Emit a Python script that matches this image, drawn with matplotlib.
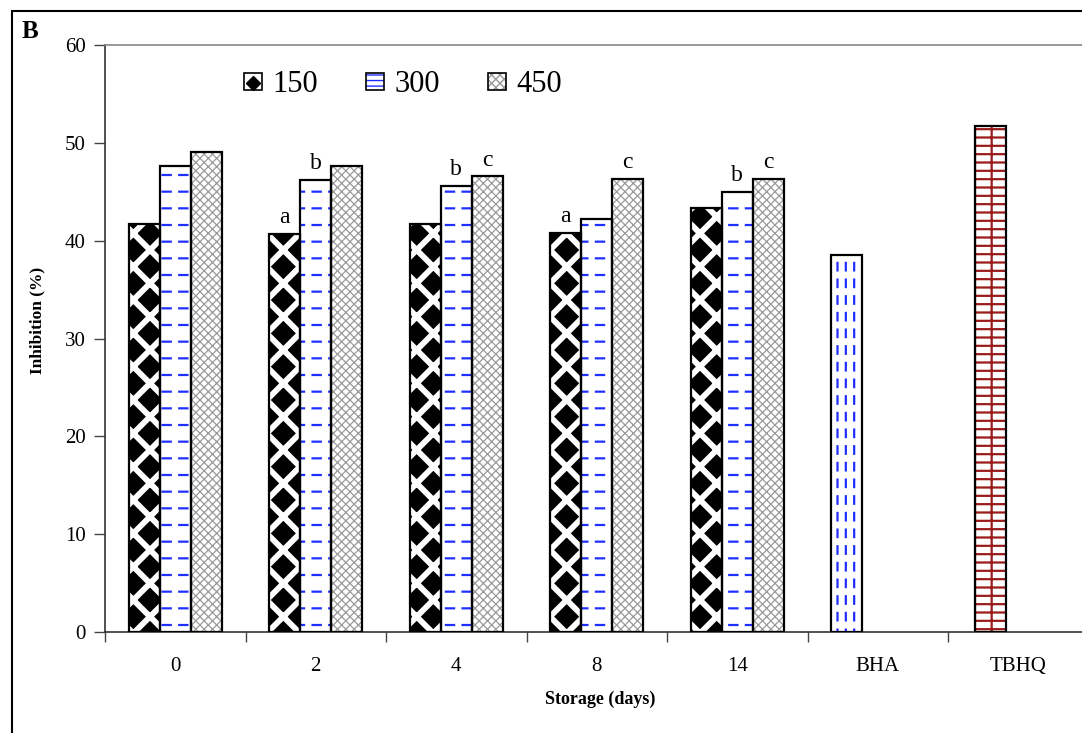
import matplotlib
matplotlib.use("Agg")
import matplotlib.pyplot as plt
from matplotlib.patches import Patch, Rectangle
from matplotlib.lines import Line2D
import numpy as np

plt.rcParams['font.family'] = ['Liberation Serif', 'DejaVu Serif']

# data
days = ['0', '2', '4', '8', '14']
labels = days + ['BHA', 'TBHQ']
inh_150 = [41.7, 40.7, 41.7, 40.8, 43.3]
inh_300 = [47.6, 46.2, 45.6, 42.2, 45.0]
inh_450 = [49.1, 47.6, 46.6, 46.3, 46.3]
bha = [38.5]
tbhq = [51.7]
letters_150 = ['', 'a', '', 'a', '']
letters_300 = ['', 'b', 'b', '', 'b']
letters_450 = ['', '', 'c', 'c', 'c']

W = 0.22
blue = '#1f2fff'
red = '#9b1b1b'
grey = '#9a9a9a'


def hatched(ax, x, h, face, hatch, hcolor, hlw, cut=None, cutlw=None):
    """bar with coloured hatch, optional white hatch on top to break lines into dashes"""
    b = ax.bar(x, h, W, color=face, edgecolor=hcolor, linewidth=0, hatch=hatch, zorder=2)
    for p in b:
        p.set_hatch_linewidth(hlw)
    if cut:
        c = ax.bar(x, h, W, fill=False, edgecolor='white', linewidth=0, hatch=cut, zorder=3)
        for p in c:
            p.set_hatch_linewidth(cutlw)
    ax.bar(x, h, W, fill=False, edgecolor='black', linewidth=1.6, zorder=4)
    return b


fig = plt.figure(figsize=(10.82, 7.33), dpi=100)
ax = fig.add_axes([105 / 1082, 1 - 632 / 733, 983.5 / 1082, 587 / 733])

x = np.arange(len(days)) + 0.5
hatched(ax, x - W, inh_150, 'black', 'x', 'white', 4.2)
hatched(ax, x, inh_300, 'white', '-', blue, 1.6, cut='|', cutlw=4.5)
hatched(ax, x + W, inh_450, 'white', 'xxxx', grey, 0.9)
hatched(ax, [5.5 - W], bha, 'white', '||', blue, 1.6, cut='-', cutlw=5.0)
hatched(ax, [6.5 - W + 0.02], tbhq, 'white', '--|', red, 1.6)

# significance letters
for xs, vals, lets in [(x - W, inh_150, letters_150), (x, inh_300, letters_300), (x + W, inh_450, letters_450)]:
    for xi, v, t in zip(xs, vals, lets):
        if t:
            ax.annotate(t, (xi, v), xytext=(0, 4), textcoords='offset points',
                        ha='center', va='bottom', fontsize=17)

ax.set_xlim(0, 7)
ax.set_ylim(0, 60)
ax.set_yticks(range(0, 61, 10))
ax.set_xticks(range(0, 8))
ax.set_xticklabels([])
ax.set_xticks(np.arange(7) + 0.5, minor=True)
ax.set_xticklabels(labels, minor=True)
ax.tick_params(axis='x', which='major', direction='out', length=7, width=1, color='#444444')
ax.tick_params(axis='x', which='minor', length=0, pad=18, labelsize=15)
ax.tick_params(axis='y', direction='out', length=8, width=1, color='#444444', labelsize=15, pad=6)

for s in ['left', 'bottom']:
    ax.spines[s].set_color('#333333')
    ax.spines[s].set_linewidth(1.2)
ax.spines['top'].set_color('#888888')
ax.spines['top'].set_linewidth(1.2)
ax.spines['right'].set_visible(False)

ax.set_ylabel('Inhibition (%)', fontsize=12.5, fontweight='bold')
ax.yaxis.set_label_coords(-0.061, 0.53)
ax.set_xlabel('Storage (days)', fontsize=13, fontweight='bold')
ax.xaxis.set_label_coords(0.503, -0.100)

# legend: hatch patch + black border overlaid
border = dict(fill=False, edgecolor='black', linewidth=1.2)
handles = [
    (Patch(facecolor='white', linewidth=0), Patch(**border),
     Line2D([], [], marker='D', color='black', ls='', ms=7)),
    (Patch(facecolor='white', edgecolor=blue, hatch='---', linewidth=0), Patch(**border)),
    (Patch(facecolor='white', edgecolor=grey, hatch='xxxx', linewidth=0), Patch(**border)),
]
ax.legend(handles, ['150', '300', '450'], ncol=3, frameon=False, fontsize=22,
          handlelength=0.6, handleheight=0.45, handletextpad=0.35, columnspacing=1.55,
          loc='center left', bbox_to_anchor=(0.113, 0.932))

# outer frame and panel letter
fig.patches.append(Rectangle((12 / 1082, -0.05), 1.2, 1 - 11 / 733 + 0.05, transform=fig.transFigure,
                             fill=False, edgecolor='black', linewidth=1.5, zorder=0))
fig.text(22 / 1082, 1 - 38 / 733, 'B', fontsize=18, fontweight='bold', ha='left', va='baseline')

fig.savefig('out.png', dpi=100)
